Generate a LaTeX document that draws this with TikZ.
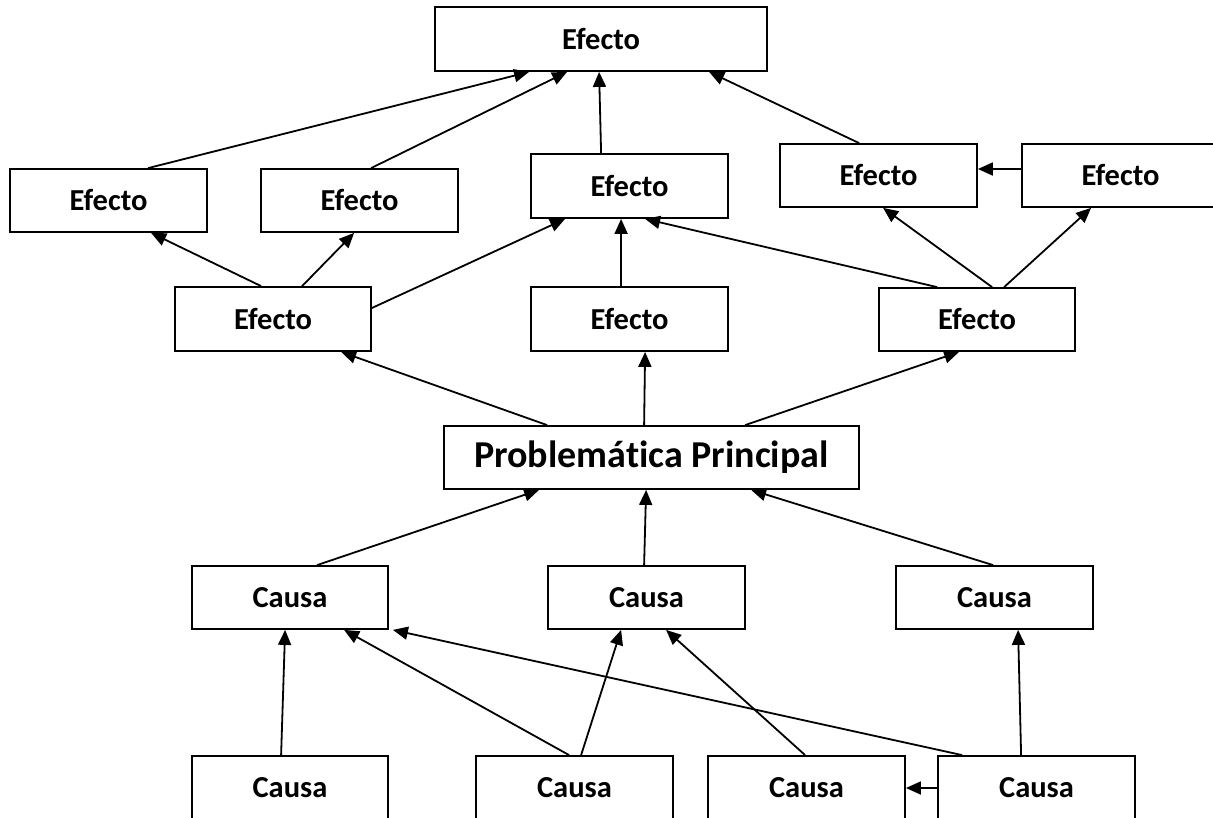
\documentclass[tikz,border=0pt]{standalone}
\usepackage{fontspec}
\setmainfont{Carlito}[Ligatures=NoCommon]
\usetikzlibrary{arrows.meta}
\begin{document}
\begin{tikzpicture}[x=1pt,y=-1pt,
  box/.style={draw=black, line width=1.8pt, fill=white, inner sep=0pt,
    minimum width=197pt, minimum height=64pt,
    font=\fontsize{30.5}{36}\selectfont\bfseries},
  bigbox/.style={box, minimum width=415pt, minimum height=63pt,
    font=\fontsize{38}{45}\selectfont\bfseries},
  link/.style={draw=black, line width=1.8pt,
    -{Triangle[length=15pt,width=13pt]}}]
\useasboundingbox (0,0) rectangle (1213,817);
\clip (0,0) rectangle (1213,817);

% effects
\node[box, minimum width=332pt] (E0) at (601,39) {Efecto};
\node[box, minimum height=63pt] (E1) at (108.5,200.5) {Efecto};
\node[box, minimum height=63pt] (E2) at (359.5,200.5) {Efecto};
\node[box] (E3) at (629.5,186) {Efecto};
\node[box, minimum height=63pt] (E5) at (878.5,175.5) {Efecto};
\node[box, minimum height=63pt] (E7) at (1120.5,175.5) {Efecto};
\node[box, minimum width=196pt] (E4) at (273,319) {Efecto};
\node[box] (E6) at (629.5,319) {Efecto};
\node[box, minimum width=196pt, minimum height=63pt] (E8) at (977,319.5) {Efecto};

% central problem
\node[bigbox] (P) at (651.5,457.5) {Problemática Principal};

% causes
\node[box, minimum width=196pt, minimum height=63pt] (C1) at (290,597.5) {Causa};
\node[box, minimum height=63pt] (C2) at (646.5,597.5) {Causa};
\node[box, minimum height=63pt] (C3) at (994.5,597.5) {Causa};
\node[box, minimum width=196pt] (B1) at (290,788) {Causa};
\node[box] (B2) at (574.5,788) {Causa};
\node[box] (B3) at (806.5,788) {Causa};
\node[box] (B4) at (1036.5,788) {Causa};

% effects into the top effect
\draw[link] ([xshift=139pt]E1.north west) -- ([xshift=95pt]E0.south west);
\draw[link] ([xshift=111pt]E2.north west) -- ([xshift=133pt]E0.south west);
\draw[link] ([xshift=71pt]E3.north west) -- ([xshift=165pt]E0.south west);
\draw[link] ([xshift=80pt]E5.north west) -- ([xshift=275pt]E0.south west);
\draw[link] ([yshift=6.5pt]E7.west) -- ([yshift=6.5pt]E5.east);

% second row of effects
\draw[link] ([xshift=87pt]E4.north west) -- ([xshift=142pt]E1.south west);
\draw[link] ([xshift=128pt]E4.north west) -- ([xshift=94pt]E2.south west);
\draw[link] ([yshift=11pt]E4.east) -- ([xshift=35pt]E3.south west);
\draw[link] ([xshift=91pt]E6.north west) -- ([xshift=91pt]E3.south west);
\draw[link] ([xshift=59pt]E8.north west) -- ([xshift=115pt]E3.south west);
\draw[link] ([xshift=114pt]E8.north west) -- ([xshift=104pt]E5.south west);
\draw[link] ([xshift=126pt]E8.north west) -- ([xshift=70pt]E7.south west);

% problem into effects
\draw[link] ([xshift=104pt]P.north west) -- ([xshift=167pt]E4.south west);
\draw[link] ([xshift=201pt]P.north west) -- ([xshift=115pt]E6.south west);
\draw[link] ([xshift=302pt]P.north west) -- ([xshift=81pt]E8.south west);

% causes into problem
\draw[link] ([xshift=126pt]C1.north west) -- ([xshift=96pt]P.south west);
\draw[link] ([xshift=97pt]C2.north west) -- ([xshift=203pt]P.south west);
\draw[link] ([xshift=98pt]C3.north west) -- ([xshift=308pt]P.south west);

% root causes
\draw[link] ([xshift=90pt]B1.north west) -- ([xshift=94pt]C1.south west);
\draw[link] ([xshift=94pt]B2.north west) -- ([xshift=153pt]C1.south west);
\draw[link] ([xshift=106pt]B2.north west) -- ([xshift=74pt]C2.south west);
\draw[link] ([xshift=98pt]B3.north west) -- ([xshift=119pt]C2.south west);
\draw[link] ([xshift=25pt]B4.north west) -- ([xshift=4pt]C1.south east);
\draw[link] ([xshift=84pt]B4.north west) -- ([xshift=123pt]C3.south west);
\draw[link] (B4.west) -- (B3.east);
\end{tikzpicture}
\end{document}
